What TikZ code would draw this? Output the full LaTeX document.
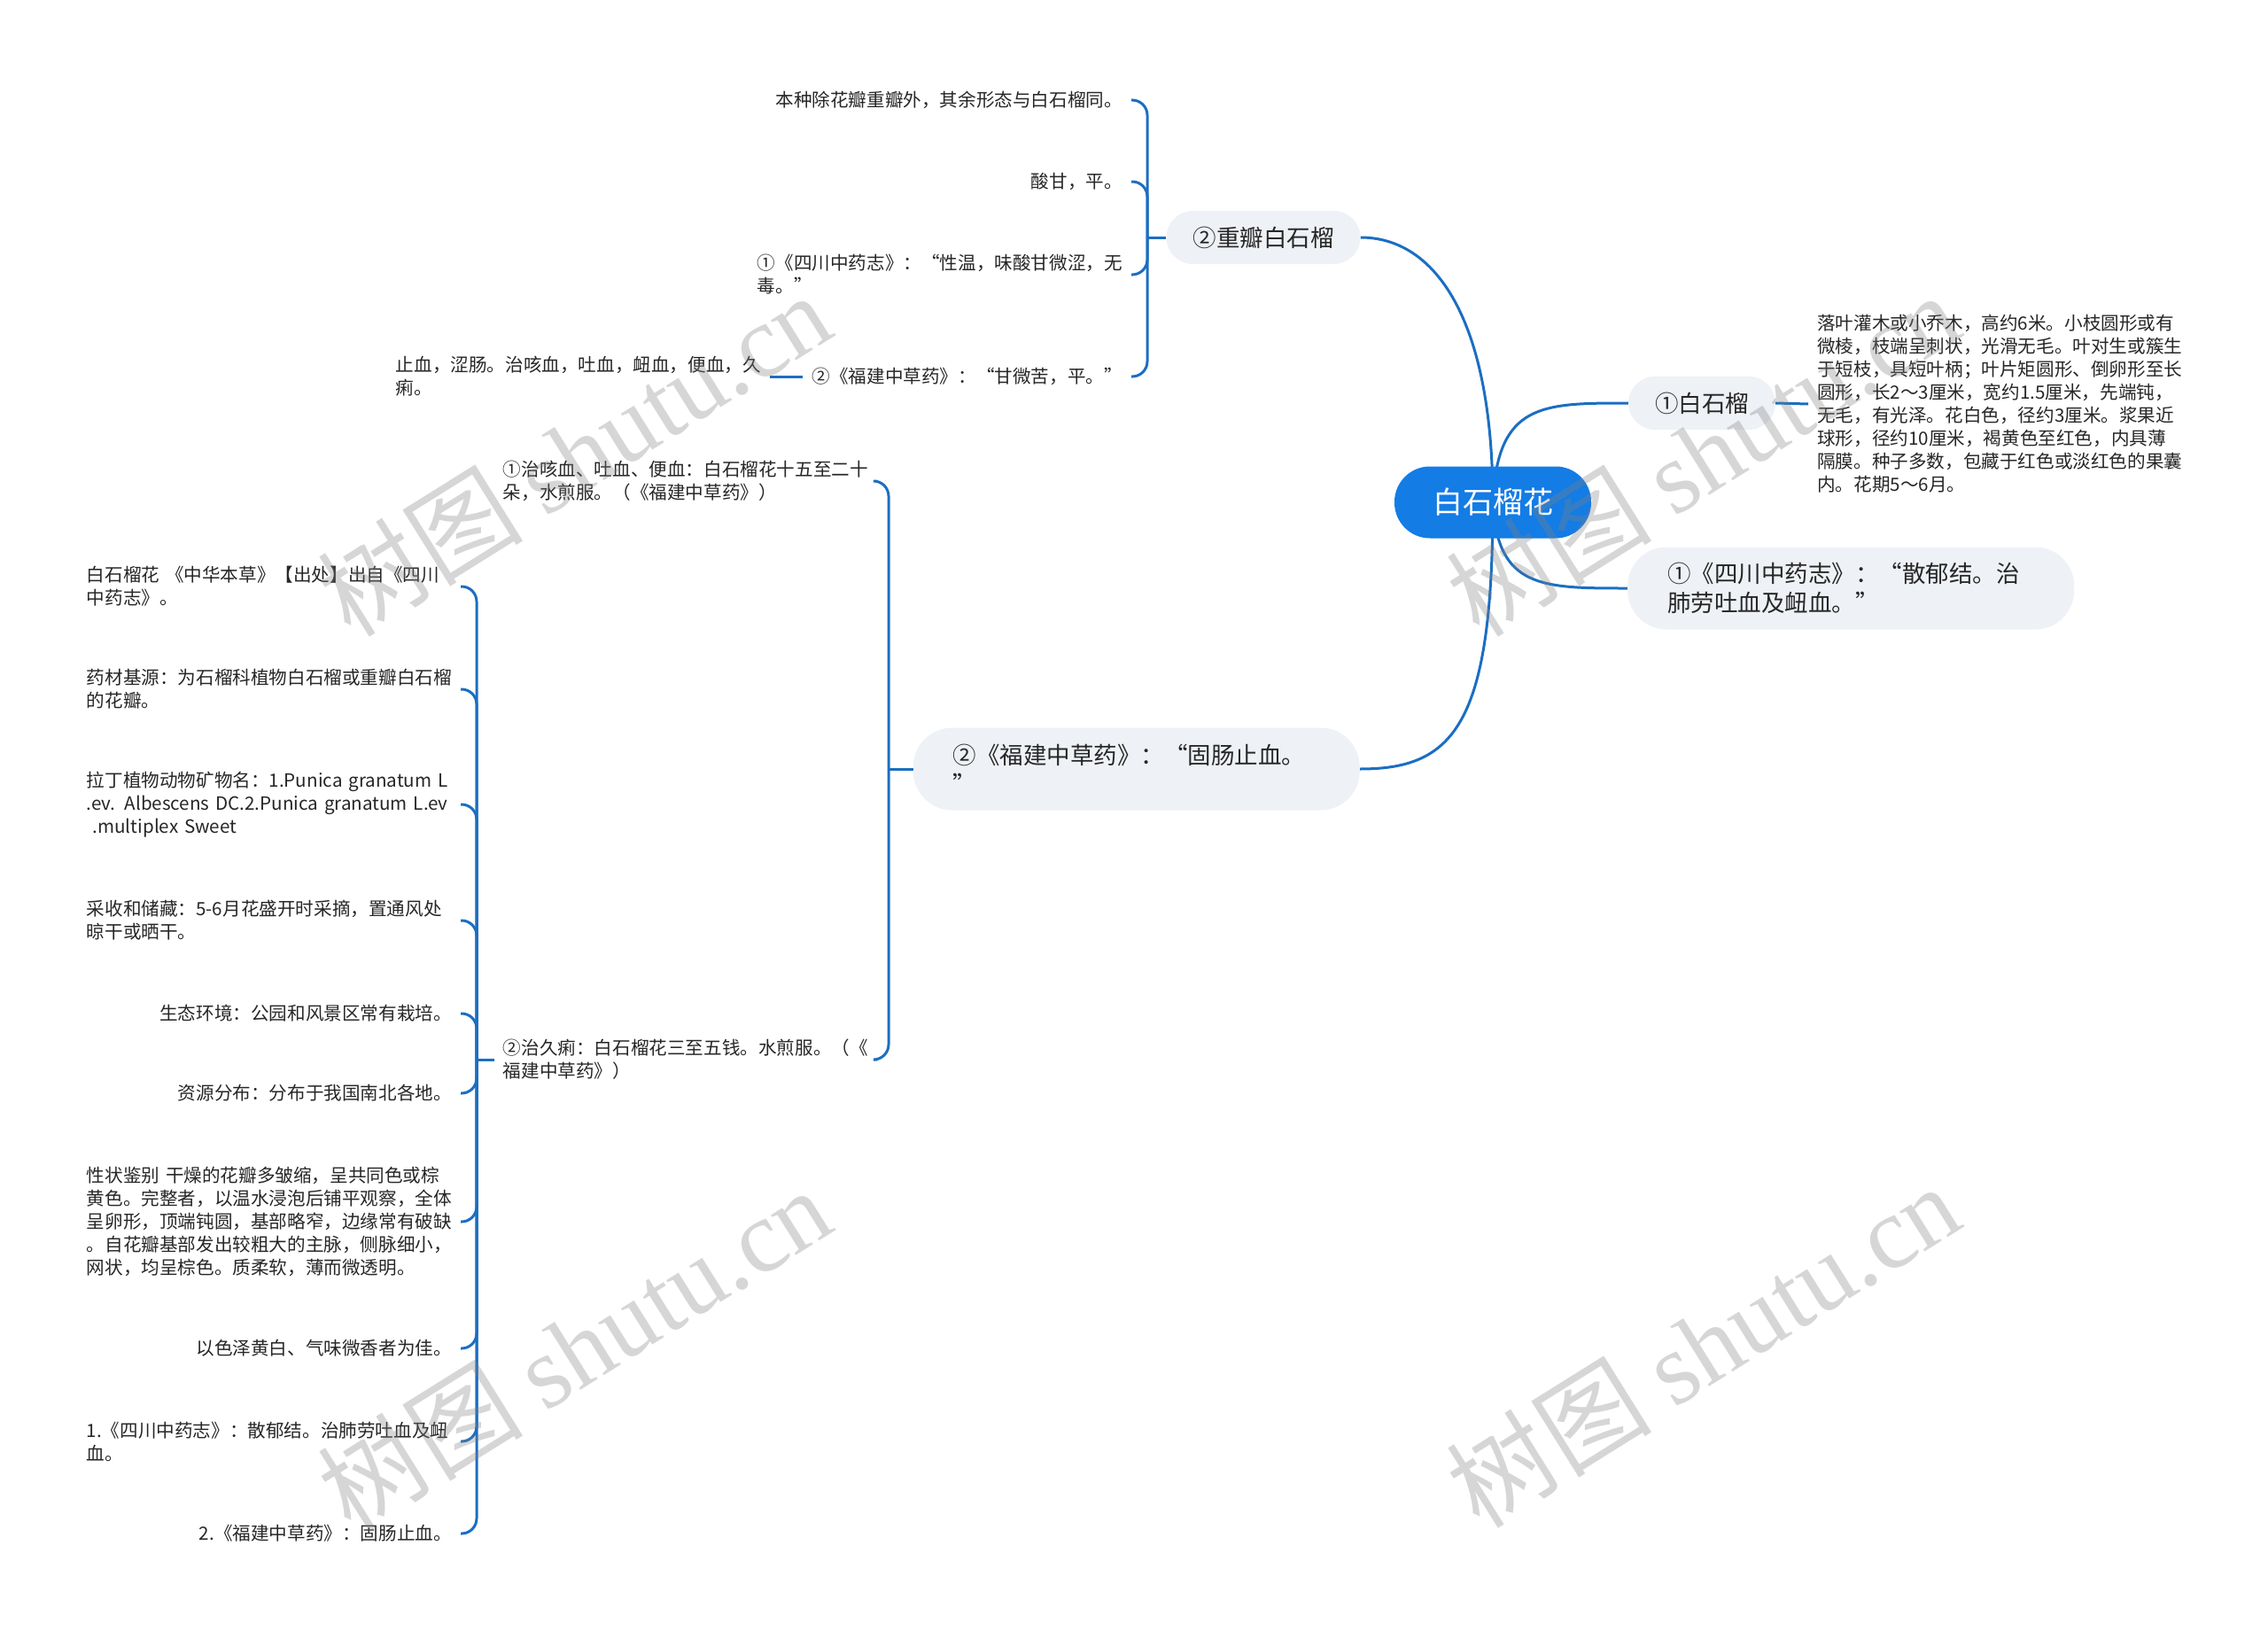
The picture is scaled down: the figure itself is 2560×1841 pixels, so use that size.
\documentclass[tikz,border=0pt]{standalone}
\usepackage{fontspec}
\setmainfont{Noto Sans CJK SC}
\newfontfamily\wmlatin{Liberation Serif}
\definecolor{rootblue}{HTML}{137CE5}
\definecolor{linec}{HTML}{1B6EC2}
\definecolor{branchgray}{HTML}{EEF1F5}
\definecolor{txt}{HTML}{262626}
\pgfdeclarelayer{bg}
\pgfdeclarelayer{wm}
\pgfsetlayers{bg,main,wm}
\begin{document}
\begin{tikzpicture}[x=1pt,y=-1pt,
  conn/.style={draw=linec, line width=3pt},
  hook/.style={conn, rounded corners=17pt},
  root/.style={fill=rootblue, text=white, rounded corners=40pt, minimum width=222pt, minimum height=81pt, inner sep=0pt, font=\fontsize{34}{40}\selectfont},
  branch/.style={fill=branchgray, text=txt, rounded corners=30pt, minimum height=60pt, inner xsep=30pt, inner ysep=0pt, font=\fontsize{26.5}{34}\selectfont},
  bigbranch/.style={fill=branchgray, text=txt, rounded corners=44pt, minimum height=93pt, inner xsep=45pt, inner ysep=0pt, text width=414pt, align=left, font=\fontsize{26.5}{33}\selectfont},
  leaf/.style={text=txt, inner xsep=10pt, inner ysep=2pt, font=\fontsize{20.6}{26}\selectfont},
  leafm/.style={leaf, text width=412pt, align=left},
  wmark/.style={text=gray, opacity=0.32, rotate=32, inner sep=0pt, font=\fontsize{116}{116}\selectfont}
]
\useasboundingbox (0,0) rectangle (2560,1841);

% central and main branches
\node[root] (root) at (1685,567) {白石榴花};
\node[branch] (zb) at (1426,268) {②重瓣白石榴};
\node[branch] (bs) at (1921,455) {①白石榴};
\node[bigbranch, anchor=west] (ss) at (1837,664) {①《四川中药志》：“散郁结。治\\肺劳吐血及衄血。”};
\node[bigbranch, anchor=east] (fj) at (1535,868) {②《福建中草药》：“固肠止血。\\”};

% description of 白石榴
\node[leafm, anchor=west] (ld) at (2041,456) {落叶灌木或小乔木，高约6米。小枝圆形或有\\微棱，枝端呈刺状，光滑无毛。叶对生或簇生\\于短枝，具短叶柄；叶片矩圆形、倒卵形至长\\圆形，长2～3厘米，宽约1.5厘米，先端钝，\\无毛，有光泽。花白色，径约3厘米。浆果近\\球形，径约10厘米，褐黄色至红色，内具薄\\隔膜。种子多数，包藏于红色或淡红色的果囊\\内。花期5～6月。};

% children of 重瓣白石榴
\node[leaf, anchor=east] (a1) at (1277,113) {本种除花瓣重瓣外，其余形态与白石榴同。};
\node[leaf, anchor=east] (a2) at (1277,205) {酸甘，平。};
\node[leafm, anchor=east] (a3) at (1277,310) {①《四川中药志》：“性温，味酸甘微涩，无\\毒。”};
\node[leaf, anchor=east] (a4) at (1277,425) {②《福建中草药》：“甘微苦，平。”};
\node[leafm, anchor=east] (a5) at (869,425) {止血，涩肠。治咳血，吐血，衄血，便血，久\\痢。};

% children of 福建中草药
\node[leafm, anchor=east] (b1) at (990,543) {①治咳血、吐血、便血：白石榴花十五至二十\\朵，水煎服。（《福建中草药》）};
\node[leafm, anchor=east] (b2) at (990,1196) {②治久痢：白石榴花三至五钱。水煎服。（《\\福建中草药》）};

% children of 治久痢
\node[leafm, anchor=east] (c1) at (520,662) {\mbox{白石榴花 《中华本草》【出处】出自《四川}\\中药志》。};
\node[leafm, anchor=east] (c2) at (520,778) {药材基源：为石榴科植物白石榴或重瓣白石榴\\的花瓣。};
\node[leafm, anchor=east] (c3) at (520,908) {\mbox{拉丁植物动物矿物名：1.Punica granatum L}\\\mbox{.ev. Albescens DC.2.Punica granatum L.ev}\\\mbox{ .multiplex Sweet}};
\node[leafm, anchor=east] (c4) at (520,1039) {采收和储藏：5-6月花盛开时采摘，置通风处\\晾干或晒干。};
\node[leaf, anchor=east] (c5) at (520,1144) {生态环境：公园和风景区常有栽培。};
\node[leaf, anchor=east] (c6) at (520,1234) {资源分布：分布于我国南北各地。};
\node[leafm, anchor=east] (c7) at (520,1379) {\mbox{性状鉴别 干燥的花瓣多皱缩，呈共同色或棕}\\黄色。完整者，以温水浸泡后铺平观察，全体\\呈卵形，顶端钝圆，基部略窄，边缘常有破缺\\。自花瓣基部发出较粗大的主脉，侧脉细小，\\网状，均呈棕色。质柔软，薄而微透明。};
\node[leaf, anchor=east] (c8) at (520,1522) {以色泽黄白、气味微香者为佳。};
\node[leafm, anchor=east] (c9) at (520,1627) {1.《四川中药志》：散郁结。治肺劳吐血及衄\\血。};
\node[leaf, anchor=east] (c10) at (520,1731) {2.《福建中草药》：固肠止血。};

% bracket spines
\coordinate (zbS) at (1295,268);
\coordinate (fjS) at (1003,868);
\coordinate (b2S) at (538,1196);

\begin{pgfonlayer}{bg}
\draw[conn] (root.center) .. controls (1685,360) and (1620,268) .. (zb.east);
\draw[conn] (root.center) .. controls (1690,455) and (1740,455) .. (bs.west);
\draw[conn] (root.center) .. controls (1690,664) and (1740,664) .. (ss.west);
\draw[conn] (root.center) .. controls (1685,820) and (1640,868) .. (fj.east);
\end{pgfonlayer}

\draw[conn] (bs.east) -- (ld.west);

\draw[conn] (zb.west) -- (zbS);
\foreach \n in {a1,a2,a3,a4} \draw[hook] (zbS) |- (\n.east);
\draw[conn] (a4.west) -- (a5.east);

\draw[conn] (fj.west) -- (fjS);
\foreach \n in {b1,b2} \draw[hook] (fjS) |- (\n.east);

\draw[conn] (b2.west) -- (b2S);
\foreach \n in {c1,c2,c3,c4,c5,c6,c7,c8,c9,c10} \draw[hook] (b2S) |- (\n.east);

% watermarks
\begin{pgfonlayer}{wm}
\node[wmark] (w1) at (648,512) {树图 {\wmlatin shutu.cn}};
\node[wmark] (w2) at (1922,512) {树图 {\wmlatin shutu.cn}};
\node[wmark] (w3) at (648,1522) {树图 {\wmlatin shutu.cn}};
\node[wmark] (w4) at (1922,1518) {树图 {\wmlatin shutu.cn}};
\end{pgfonlayer}
\end{tikzpicture}
\end{document}
